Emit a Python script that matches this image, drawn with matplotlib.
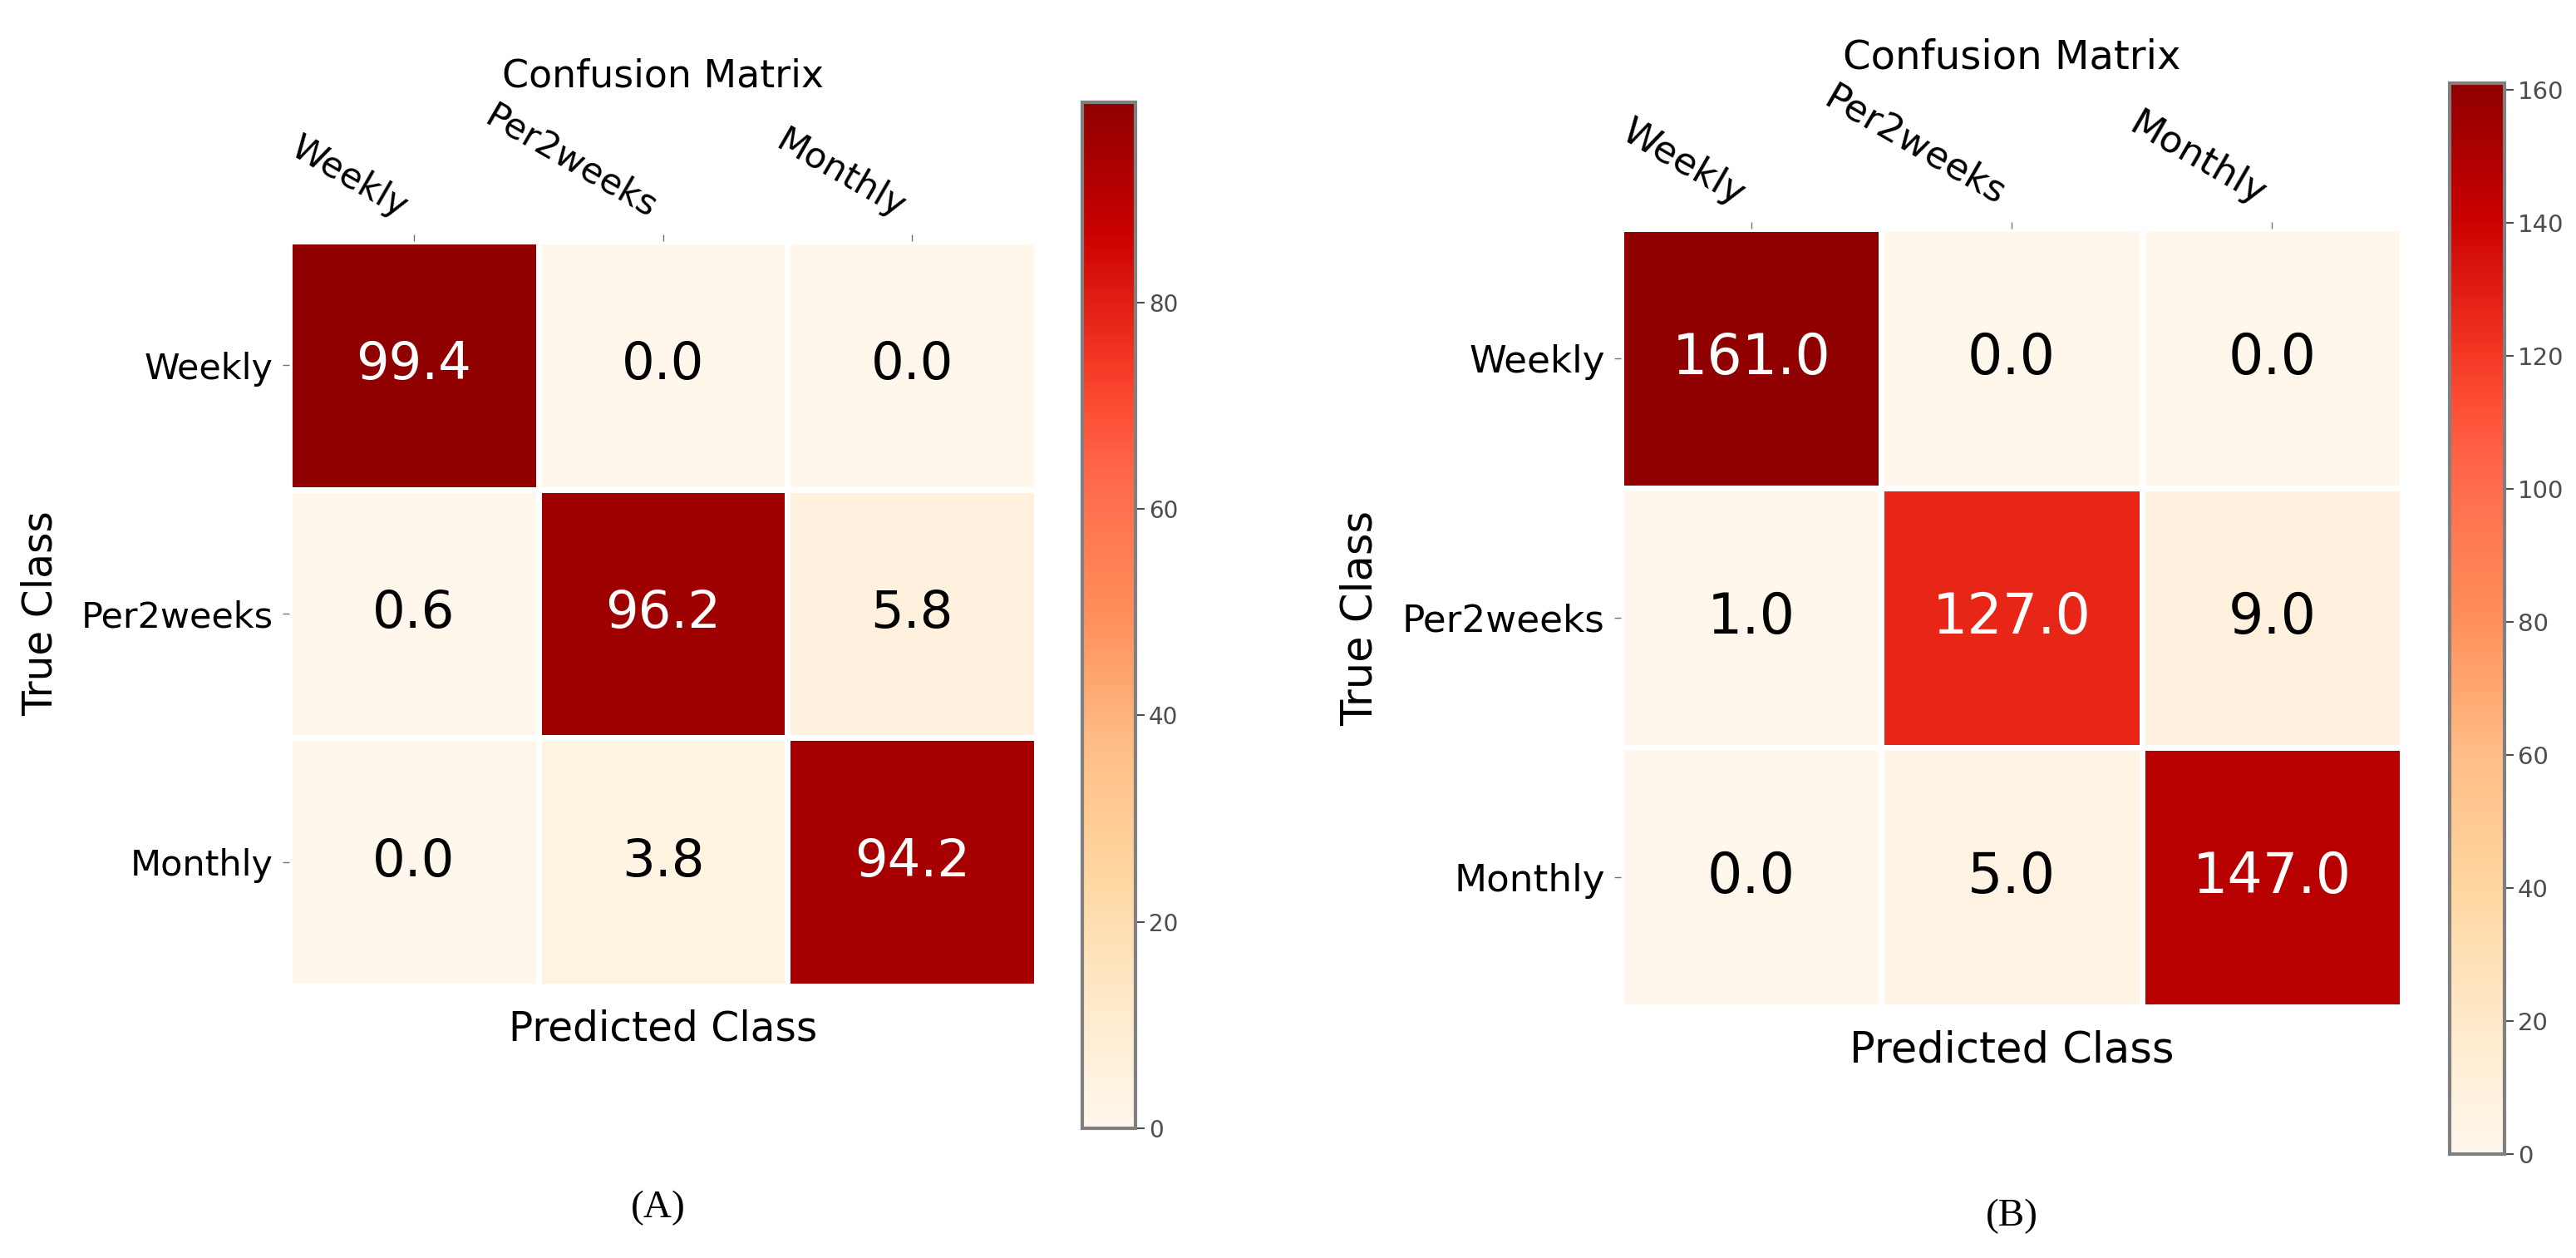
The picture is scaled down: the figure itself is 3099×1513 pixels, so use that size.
import numpy as np
import matplotlib
matplotlib.use("Agg")
import matplotlib.pyplot as plt
from matplotlib.colors import ListedColormap, rgb_to_hsv, hsv_to_rgb

# class names and the two confusion matrices (rows: true, cols: predicted)
classes = ["Weekly", "Per2weeks", "Monthly"]
cm_a = np.array([[99.4, 0.0, 0.0],
                 [0.6, 96.2, 5.8],
                 [0.0, 3.8, 94.2]])
cm_b = np.array([[161.0, 0.0, 0.0],
                 [1.0, 127.0, 9.0],
                 [0.0, 5.0, 147.0]])
cbar_ticks_a = [0, 20, 40, 60, 80]
cbar_ticks_b = [0, 20, 40, 60, 80, 100, 120, 140, 160]

W, H = 3099, 1513

# OrRd, a little brighter in the dark reds like the reference
_hsv = rgb_to_hsv(plt.get_cmap("OrRd")(np.linspace(0, 1, 256))[:, :3])
_hsv[:, 2] = np.clip(_hsv[:, 2] * 1.13, 0, 1)
cmap = ListedColormap(hsv_to_rgb(_hsv))


def rect(left, top, right, bottom):
    # pixel box -> figure fraction
    return [left / W, 1 - bottom / H, (right - left) / W, (bottom - top) / H]


def draw_cm(fig, ax_box, cax_box, cm, cticks, s, annot_size):
    ax = fig.add_axes(rect(*ax_box))
    vmax = cm.max()
    mesh = ax.pcolormesh(cm, cmap=cmap, vmin=0, vmax=vmax,
                         edgecolors="white", linewidth=5)
    n = len(classes)
    ax.set_xlim(0, n)
    ax.set_ylim(n, 0)
    for sp in ax.spines.values():
        sp.set_visible(False)

    ax.xaxis.tick_top()
    ax.set_xticks(np.arange(n) + 0.5)
    ax.set_xticklabels(classes, rotation=-30, ha="right", va="bottom",
                       fontsize=31 * s)
    ax.set_yticks(np.arange(n) + 0.5)
    ax.set_yticklabels(classes, fontsize=31 * s)
    ax.tick_params(length=6, width=1, color="0.45", pad=8)

    ax.xaxis.set_label_position("bottom")
    ax.set_xlabel("Predicted Class", fontsize=35 * s, labelpad=20)
    ax.set_ylabel("True Class", fontsize=35 * s, labelpad=18)
    ax.set_title("Confusion Matrix", fontsize=33 * s, pad=10)

    for i in range(n):
        for j in range(n):
            v = cm[i, j]
            ax.text(j + 0.5, i + 0.5, "{:.1f}".format(v),
                    ha="center", va="center", fontsize=annot_size,
                    color="white" if v > vmax / 2 else "black")

    cax = fig.add_axes(rect(*cax_box))
    cb = fig.colorbar(mesh, cax=cax, ticks=cticks)
    cb.outline.set_edgecolor("0.5")
    cb.outline.set_linewidth(3)
    cax.tick_params(labelsize=20 * s, colors="0.3", length=8, width=1.5)
    return ax


fig = plt.figure(figsize=(W / 100, H / 100), dpi=100)

draw_cm(fig, (348, 290, 1247, 1186), (1302, 123, 1366, 1357),
        cm_a, cbar_ticks_a, 1.0, 45)
draw_cm(fig, (1950, 275, 2890, 1211), (2947, 100, 3013, 1388),
        cm_b, cbar_ticks_b, 1.05, 48)

fig.text(792 / W, 1 - 1453 / H, "(A)", ha="center", va="center",
         fontsize=34, family="Liberation Serif")
fig.text(2420 / W, 1 - 1463 / H, "(B)", ha="center", va="center",
         fontsize=34, family="Liberation Serif")

fig.savefig("out.png", dpi=100)
